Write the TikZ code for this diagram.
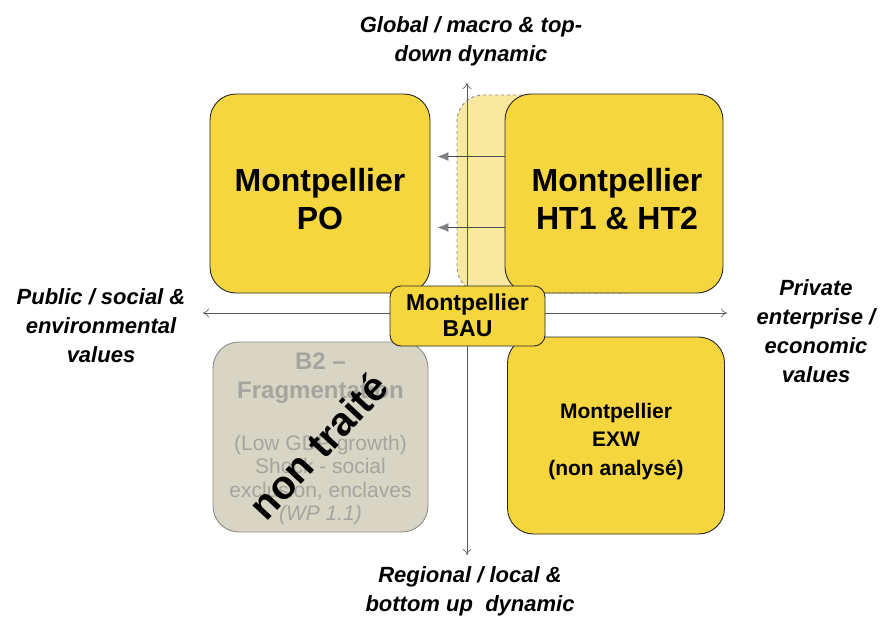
\documentclass[tikz,border=0pt]{standalone}
\usepackage{fontspec}
\setmainfont{Liberation Sans}
\usetikzlibrary{arrows.meta}
\definecolor{gold}{RGB}{246,214,62}
\definecolor{paleGold}{RGB}{249,233,160}
\definecolor{greyFill}{RGB}{216,213,196}
\definecolor{greyText}{RGB}{165,165,160}
\newcommand{\bigline}[1]{{\bfseries\fontsize{24}{27}\selectfont #1}}
\tikzset{
	box/.style={draw=black!85, line width=0.9pt, fill=gold, rounded corners=26pt, inner sep=0pt},
	boxtxt/.style={align=center, inner sep=0pt},
	bigtxt/.style={boxtxt, font=\bfseries\fontsize{32}{38}\selectfont},
	axislabel/.style={align=center, font=\bfseries\itshape\fontsize{22}{29}\selectfont},
	axis/.style={draw=black!65, line width=0.6pt, {To[length=6pt,width=9pt]}-{To[length=6pt,width=9pt]}},
	shift arrow/.style={draw=black!70, line width=0.7pt, -{Latex[length=11pt,width=9pt,color=black!50,fill=black!50]}}
}
\begin{document}
\begin{tikzpicture}[x=1pt, y=-1pt]
	\useasboundingbox (0,0) rectangle (885,619);
	%boite fantome derriere HT
	\node[box, draw=black!45, dashed, fill=paleGold, minimum width=193, minimum height=198] (ghost) at (553.5,194) {};
	%axes
	\coordinate (top) at (467,83);
	\coordinate (bottom) at (467,555);
	\coordinate (left) at (203,313);
	\coordinate (right) at (727,313);
	\draw[axis] (bottom) -- (top);
	\draw[axis] (left) -- (right);
	%scenarios
	\node[box, minimum width=220, minimum height=199] (po) at (320,193.5) {};
	\node[bigtxt] (potxt) at ([yshift=-6pt]po.center) {Montpellier\\PO};
	\node[box, minimum width=218, minimum height=199] (ht) at (614,193.5) {};
	\node[bigtxt] (httxt) at ([yshift=-6pt, xshift=3pt]ht.center) {Montpellier\\HT1 \& HT2};
	\node[box, minimum width=217, minimum height=197] (exw) at (616,435.5) {};
	\node[boxtxt, font=\bfseries\fontsize{21}{28.5}\selectfont] (exwtxt) at ([yshift=-6pt]exw.center) {Montpellier\\EXW\\(non analysé)};
	\node[box, draw=black!45, fill=greyFill, minimum width=215, minimum height=190] (b2) at (320.5,437) {};
	\node[boxtxt, text=greyText, font=\fontsize{21}{23.5}\selectfont] (b2txt) at ([yshift=-2pt]b2.center)
		{\bigline{B2 –}\\[6pt]\bigline{Fragmentation}\\[28pt](Low GDP growth)\\Shock - social\\exclusion, enclaves\\\textit{(WP 1.1)}};
	\node[box, rounded corners=11pt, minimum width=155, minimum height=60] (bau) at (467.5,316) {};
	\node[boxtxt, font=\bfseries\fontsize{23}{26}\selectfont] (bautxt) at ([yshift=1pt]bau.center) {Montpellier\\BAU};
	%glissement HT vers PO
	\draw[shift arrow] ([yshift=37pt]ht.west) -- ([yshift=37pt, xshift=7pt]po.east);
	\draw[shift arrow] ([yshift=-34pt]ht.west) -- ([yshift=-34pt, xshift=7pt]po.east);
	%non traite
	\node[rotate=47, font=\bfseries\fontsize{40}{40}\selectfont] (nt) at (318,446) {non traité};
	%libelles des axes
	\node[axislabel] (global) at (471,41) {Global / macro \& top-\\down dynamic};
	\node[axislabel] (regional) at (470,591) {Regional / local \&\\bottom up\ \ dynamic};
	\node[axislabel] (public) at (101,326) {Public / social \&\\environmental\\values};
	\node[axislabel] (private) at (816,331) {Private\\enterprise /\\economic\\values};
\end{tikzpicture}
\end{document}
